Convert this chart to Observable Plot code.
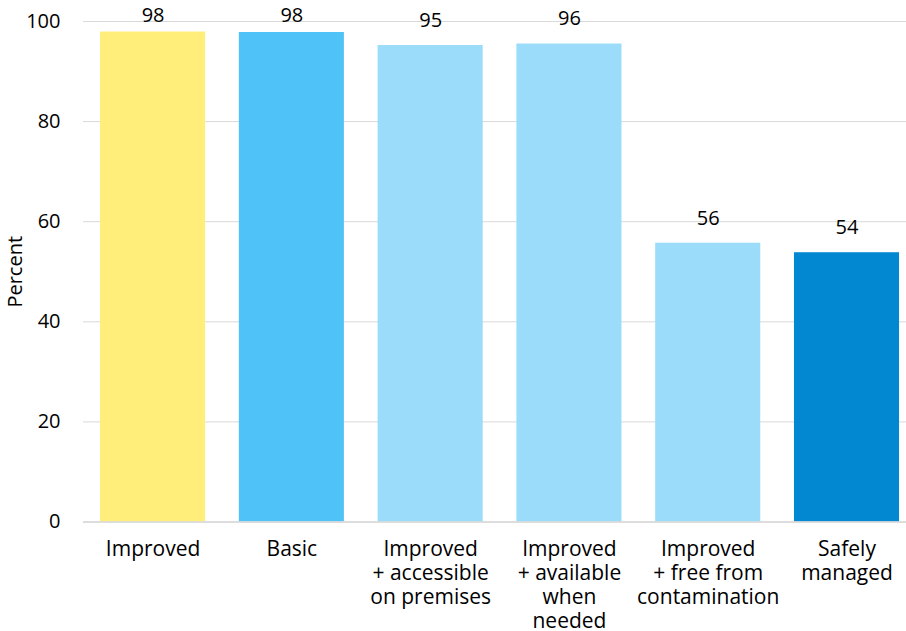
<!DOCTYPE html>
<html>
<head>
<meta charset="utf-8">
<script src="https://cdn.jsdelivr.net/npm/d3@7"></script>
<script src="https://cdn.jsdelivr.net/npm/@observablehq/plot@0.6"></script>
<style>
  html, body { margin: 0; padding: 0; background: #fff; }
  #chart svg { display: block; }
</style>
</head>
<body>
<div id="chart"></div>
<script>
const categories = [
  "Improved",
  "Basic",
  "Improved\n+ accessible\non premises",
  "Improved\n+ available\nwhen\nneeded",
  "Improved\n+ free from\ncontamination",
  "Safely\nmanaged"
];
const values = [97.9, 97.8, 95.2, 95.5, 55.7, 53.8];
const colors = ["#FFEE7A", "#4FC3F7", "#9ADCF9", "#9ADCF9", "#9ADCF9", "#0288D1"];
const yTicks = [0, 20, 40, 60, 80, 100];
const yLabel = "Percent";

const data = categories.map((c, i) => ({ category: c, value: values[i], color: colors[i] }));

const FONT = "'Open Sans', 'Noto Sans', sans-serif";

const chart = Plot.plot({
  width: 906,
  height: 631,
  marginTop: 21,
  marginBottom: 109.5,
  marginLeft: 83,
  marginRight: 0,
  style: { fontFamily: FONT, fontSize: "20px", color: "#000", background: "#fff" },
  x: { domain: categories, paddingInner: 0.243, paddingOuter: 0.0865, align: 0.71, round: false, label: null },
  y: { domain: [0, 100], label: null },
  marks: [
    Plot.gridY(yTicks, { stroke: "#d9d9d9", strokeOpacity: 1, strokeWidth: 1 }),
    Plot.barY(data, { x: "category", y: "value", fill: "color" }),
    Plot.ruleY([0], { stroke: "#d9d9d9", strokeWidth: 1.5 }),
    Plot.text(data, {
      x: "category",
      y: d => Math.min(d.value + 5, 101.2),
      text: d => d3.format(".0f")(d.value),
      fill: "#000",
      fontSize: 20,
      lineAnchor: "middle"
    }),
    Plot.axisX({ tickSize: 0, tickPadding: 16.5, lineHeight: 1.143, fontSize: 21, fill: "#000", label: null }),
    Plot.axisY(yTicks, {
      tickSize: 0,
      tickPadding: 23,
      fontSize: 20,
      fill: "#000",
      label: yLabel,
      labelAnchor: "center",
      labelArrow: "none",
      labelOffset: 76
    })
  ]
});

document.getElementById("chart").appendChild(chart);
</script>
</body>
</html>
